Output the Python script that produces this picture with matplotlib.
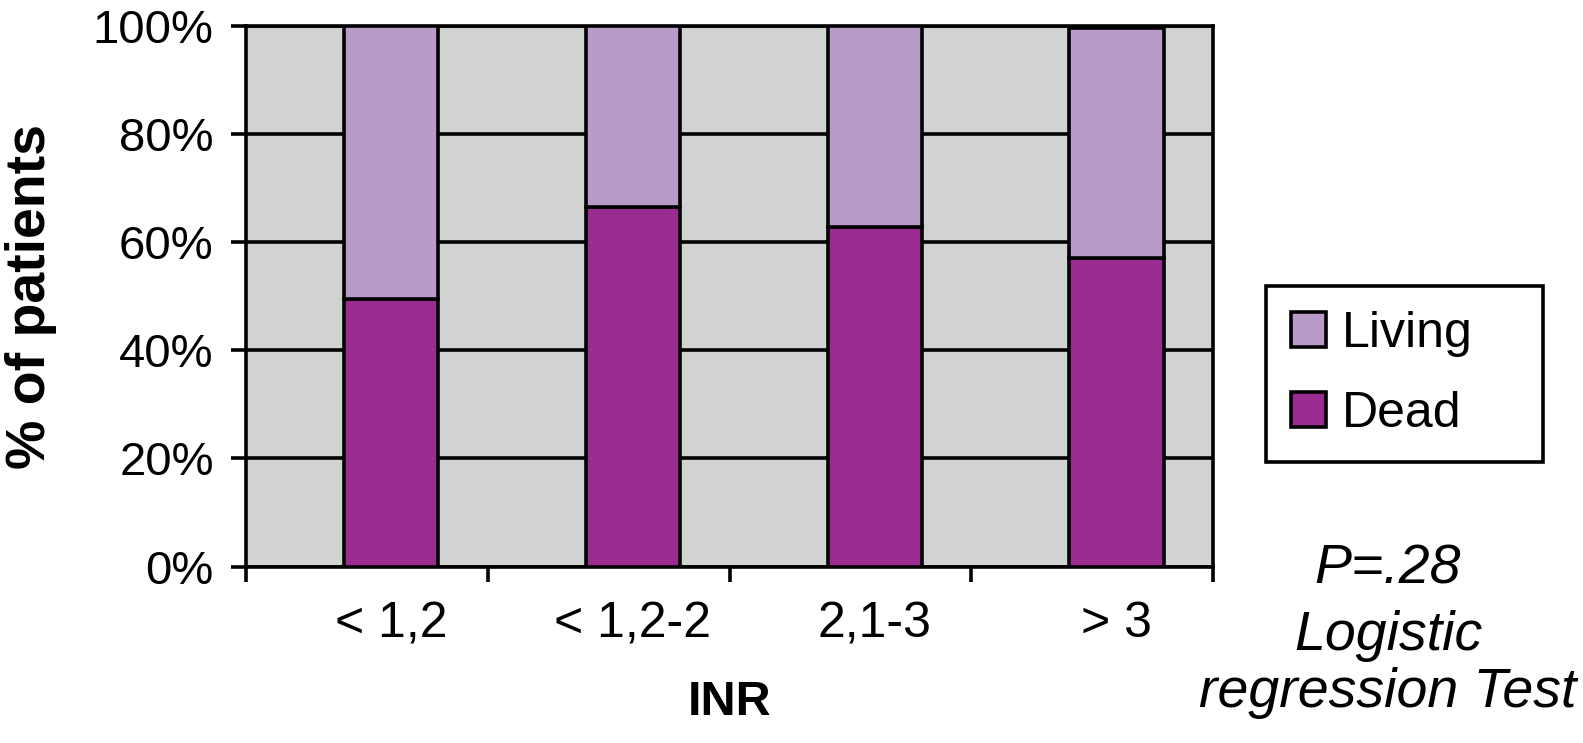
import numpy as np
import matplotlib
matplotlib.use('Agg')
import matplotlib.pyplot as plt

plt.rcParams['font.family'] = ['Liberation Sans', 'DejaVu Sans']

# data (percent of patients)
categories = ['< 1,2', '< 1,2-2', '2,1-3', '> 3']
dead = [49.5, 66.5, 62.8, 57.0]
living = [50.5, 33.5, 37.2, 42.5]
y_ticks = [0, 20, 40, 60, 80, 100]
y_tick_labels = ['0%', '20%', '40%', '60%', '80%', '100%']

col_bg = '#D1D3D2'
col_living = '#B89BC9'
col_dead = '#9B2C8F'
lw = 2.6

fig = plt.figure(figsize=(15.83, 7.43), dpi=100)
ax = fig.add_axes([0.1552, 0.2373, 0.6113, 0.7281])
ax.set_facecolor(col_bg)

ind = np.arange(len(categories))
bar_width = 0.39

p_dead = ax.bar(ind, dead, bar_width, color=col_dead, edgecolor='black',
                linewidth=lw, label='Dead', zorder=3)
p_living = ax.bar(ind, living, bar_width, bottom=dead, color=col_living,
                  edgecolor='black', linewidth=lw, label='Living', zorder=3)

ax.set_xlim(-0.6, len(categories) - 0.6)
ax.set_ylim(0, 100)

ax.set_yticks(y_ticks)
ax.set_yticklabels(y_tick_labels, fontsize=34)
ax.tick_params(axis='y', length=11, width=lw, pad=12, direction='out')

# category labels under bars, tick marks between categories
ax.set_xticks(ind)
ax.set_xticklabels(categories, fontsize=36)
ax.tick_params(axis='x', which='major', length=0, pad=25)
ax.set_xticks(np.arange(len(categories) + 1) - 0.6, minor=True)
ax.tick_params(axis='x', which='minor', length=11, width=lw, direction='out')

ax.yaxis.grid(True, color='black', linewidth=lw)
ax.set_axisbelow(True)
for sp in ax.spines.values():
    sp.set_linewidth(lw)
    sp.set_color('black')

ax.set_ylabel('% of patients', fontsize=40, fontweight='bold', va='center')
ax.yaxis.set_label_coords(-0.222, 0.5)
ax.set_xlabel('INR', fontsize=35, fontweight='bold', va='baseline')
ax.xaxis.set_label_coords(0.5, -0.274)

leg = fig.legend((p_living[0], p_dead[0]), ('Living', 'Dead'),
                 loc='upper left', mode='expand',
                 bbox_to_anchor=(1266 / 1583, 1 - 462 / 743, 277 / 1583, 176 / 743),
                 bbox_transform=fig.transFigure, borderaxespad=0,
                 fontsize=36, handlelength=0.7, handleheight=0.7,
                 handletextpad=0.32, labelspacing=0.68, borderpad=0.5,
                 fancybox=False, framealpha=1)
leg.get_frame().set_edgecolor('black')
leg.get_frame().set_linewidth(lw)
for patch in leg.get_patches():
    patch.set_linewidth(lw)

note_x = 1388 / 1583
for txt, base in [('P=.28', 583), ('Logistic', 650), ('regression Test', 707)]:
    fig.text(note_x, 1 - base / 743, txt, fontsize=40, style='italic',
             ha='center', va='baseline')

plt.savefig('out.png', dpi=100)
